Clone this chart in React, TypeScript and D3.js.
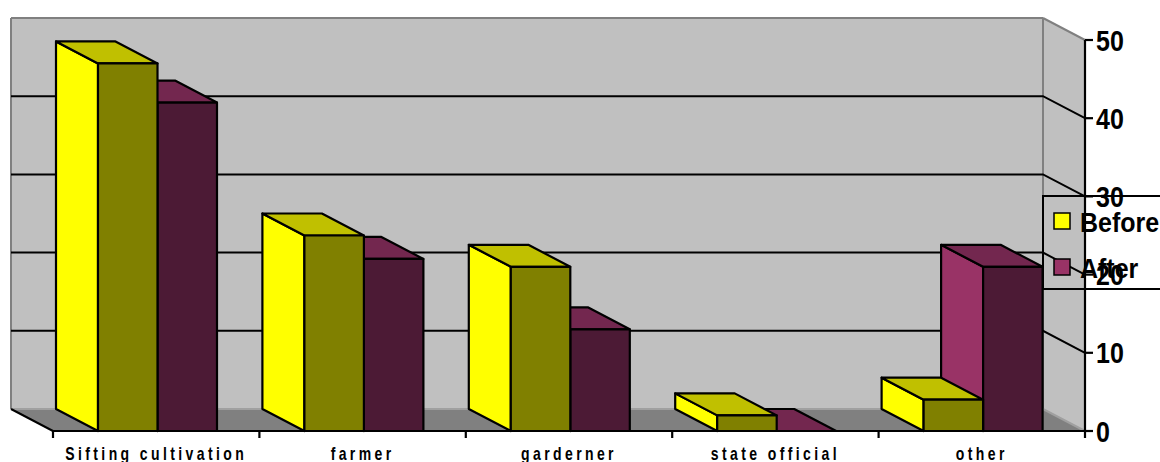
import React from "react";
import * as d3 from "d3";

// Occupation shares before and after
const categories = ["Sifting cultivation", "farmer", "garderner", "state official", "other"];
const seriesNames = ["Before", "After"];
const beforeValues = [47, 25, 21, 2, 4];
const afterValues = [42, 22, 13, 0, 21];
const valueTicks = [0, 10, 20, 30, 40, 50];

const W = 1160;
const H = 462;

// oblique depth offset of the 3D box (back plane is up-left of the front plane)
const DX = 42;
const DY = 22;

const FRONT_LEFT = 53;
const FRONT_RIGHT = 1085;

const palette: Record<string, { side: string; front: string; top: string }> = {
  Before: { side: "#FFFF00", front: "#808000", top: "#C0C000" },
  After: { side: "#993366", front: "#4C1A35", top: "#73274F" },
};

const FONT = "'Liberation Sans', Arial, Helvetica, sans-serif";

export default function App() {
  const x = d3.scaleBand<string>().domain(categories).range([FRONT_LEFT, FRONT_RIGHT]).padding(0);
  const xs = d3.scaleBand<string>().domain(seriesNames).range([45, 164]).padding(0);
  const y = d3.scaleLinear().domain([0, 50]).range([431, 40]);

  const yb = (v: number) => y(v) - DY; // back-plane y
  const backLeft = FRONT_LEFT - DX;
  const backRight = FRONT_RIGHT - DX;

  type Bar = { cat: string; s: string; v: number };
  const bars: Bar[] = [];
  categories.forEach((c, i) => {
    bars.push({ cat: c, s: "Before", v: beforeValues[i] });
    bars.push({ cat: c, s: "After", v: afterValues[i] });
  });
  // paint from right to left so nearer left faces are covered correctly
  const drawOrder = bars.slice().reverse();

  const pts = (p: [number, number][]) => p.map((q) => q.join(",")).join(" ");

  const gridVals = valueTicks.filter((v) => v > 0 && v < 50);

  return (
    <div style={{ position: "fixed", left: 0, top: 0, width: W, height: H, background: "#fff" }}>
      <svg width={W} height={H} viewBox={`0 0 ${W} ${H}`} style={{ display: "block" }}>
        {/* back wall */}
        <rect x={backLeft} y={yb(50)} width={backRight - backLeft} height={yb(0) - yb(50)} fill="#C0C0C0" />
        {/* right side wall */}
        <polygon
          points={pts([
            [backRight, yb(50)],
            [FRONT_RIGHT, y(50)],
            [FRONT_RIGHT, y(0)],
            [backRight, yb(0)],
          ])}
          fill="#C0C0C0"
        />
        {/* floor */}
        <polygon
          points={pts([
            [backLeft, yb(0)],
            [backRight, yb(0)],
            [FRONT_RIGHT, y(0)],
            [FRONT_LEFT, y(0)],
          ])}
          fill="#808080"
        />
        {/* wall edges */}
        <g stroke="#808080" strokeWidth={2} fill="none">
          <line x1={backLeft} y1={yb(50)} x2={backLeft} y2={yb(0)} />
          <line x1={backLeft} y1={yb(50)} x2={backRight} y2={yb(50)} />
          <line x1={backRight} y1={yb(50)} x2={backRight} y2={yb(0)} />
          <line x1={backRight} y1={yb(50)} x2={FRONT_RIGHT} y2={y(50)} />
          <line x1={backLeft} y1={yb(0)} x2={backRight} y2={yb(0)} stroke="#A0A0A0" />
          <line x1={backRight} y1={yb(0)} x2={FRONT_RIGHT} y2={y(0)} stroke="#A0A0A0" />
        </g>
        {/* gridlines across back and side walls */}
        <g stroke="#000" strokeWidth={2} fill="none">
          {gridVals.map((v) => (
            <polyline
              key={v}
              points={pts([
                [backLeft, yb(v)],
                [backRight, yb(v)],
                [FRONT_RIGHT, y(v)],
              ])}
            />
          ))}
          <line x1={backLeft} y1={yb(0)} x2={FRONT_LEFT} y2={y(0)} />
        </g>

        {/* bars */}
        <g stroke="#000" strokeWidth={2.2} strokeLinejoin="round">
          {drawOrder.map((b) => {
            const x0 = (x(b.cat) as number) + (xs(b.s) as number);
            const x1 = x0 + xs.bandwidth();
            const yt = y(b.v);
            const y0 = y(0);
            const c = palette[b.s];
            return (
              <g key={b.cat + b.s}>
                {b.v > 0 && (
                  <polygon
                    points={pts([
                      [x0, y0],
                      [x0, yt],
                      [x0 - DX, yt - DY],
                      [x0 - DX, y0 - DY],
                    ])}
                    fill={c.side}
                  />
                )}
                <polygon
                  points={pts([
                    [x0, yt],
                    [x1, yt],
                    [x1 - DX, yt - DY],
                    [x0 - DX, yt - DY],
                  ])}
                  fill={c.top}
                />
                {b.v > 0 && <rect x={x0} y={yt} width={x1 - x0} height={y0 - yt} fill={c.front} />}
              </g>
            );
          })}
        </g>

        {/* category axis */}
        <g stroke="#000" strokeWidth={2.2}>
          <line x1={FRONT_LEFT} y1={y(0)} x2={FRONT_RIGHT} y2={y(0)} />
          {categories.map((c) => (
            <line key={c} x1={x(c) as number} y1={y(0)} x2={x(c) as number} y2={y(0) + 7} />
          ))}
          <line x1={FRONT_RIGHT} y1={y(50)} x2={FRONT_RIGHT} y2={y(0) + 7} />
          {valueTicks.map((v) => (
            <line key={v} x1={FRONT_RIGHT} y1={y(v)} x2={FRONT_RIGHT + 8} y2={y(v)} />
          ))}
        </g>
        {categories.map((c) => (
          <text
            key={c}
            transform={`translate(${(x(c) as number) + x.bandwidth() / 2},460) scale(1,1.3)`}
            textAnchor="middle"
            fontFamily={FONT}
            fontWeight="bold"
            fontSize={14}
            letterSpacing={3.4}
            fill="#000"
          >
            {c}
          </text>
        ))}
        {valueTicks.map((v) => (
          <text
            key={v}
            transform={`translate(${FRONT_RIGHT + 11},${y(v) + 10.5}) scale(1,1.18)`}
            fontFamily={FONT}
            fontWeight="bold"
            fontSize={25}
            fill="#000"
          >
            {v}
          </text>
        ))}

        {/* legend */}
        <rect x={1043} y={196} width={140} height={93} fill="none" stroke="#000" strokeWidth={2} />
        {seriesNames.map((s, i) => {
          const sy = 213 + i * 46;
          return (
            <g key={s}>
              <rect x={1054} y={sy} width={16} height={16} fill={palette[s].side} stroke="#000" strokeWidth={1.5} />
              <text
                transform={`translate(1080,${sy + 18.5}) scale(1,1.14)`}
                fontFamily={FONT}
                fontWeight="bold"
                fontSize={25}
                fill="#000"
              >
                {s}
              </text>
            </g>
          );
        })}
      </svg>
    </div>
  );
}
